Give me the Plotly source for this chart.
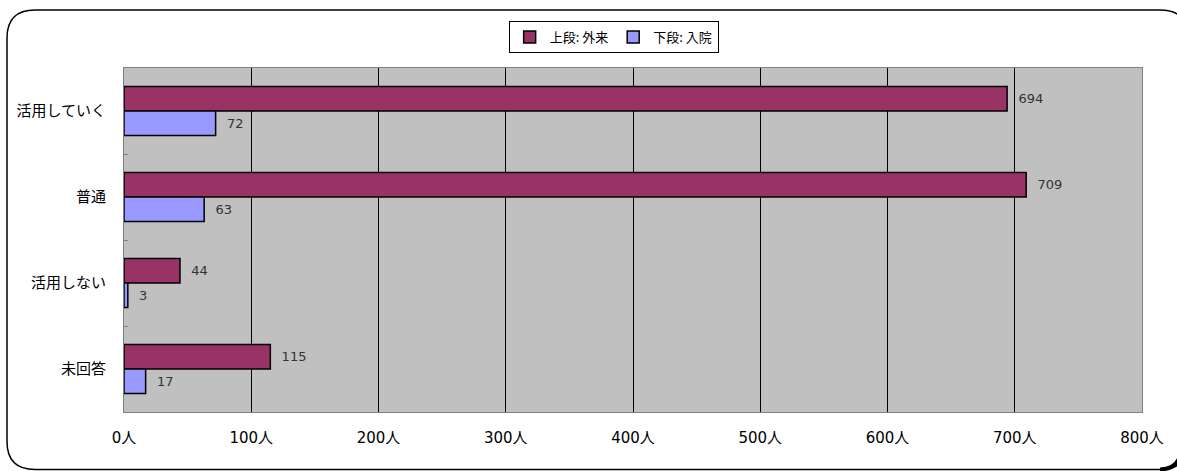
import plotly.graph_objects as go

categories = ["活用していく", "普通", "活用しない", "未回答"]
outpatient = [694, 709, 44, 115]
inpatient = [72, 63, 3, 17]
series_names = ["上段: 外来", "下段: 入院"]
x_ticks = [0, 100, 200, 300, 400, 500, 600, 700, 800]
x_tick_text = [f"{v}人" for v in x_ticks]

W, H = 1177, 471
ML, MR, MT, MB = 124, 35, 68, 59
PW, PH = W - ML - MR, H - MT - MB

def px(x):
    return (x - ML) / PW

def py(y):
    return (H - MB - y) / PH

def P(x, y):
    return f"{px(x):.5f},{py(y):.5f}"

cjk = "Noto Sans CJK JP, sans-serif"
num = "DejaVu Sans, Noto Sans CJK JP, sans-serif"

fig = go.Figure()
fig.add_trace(go.Bar(
    y=categories, x=outpatient, orientation="h", name=series_names[0],
    marker=dict(color="#993366", line=dict(color="#000000", width=1.5)),
    text=outpatient, texttemplate="  %{x}", textposition="outside", cliponaxis=False,
    textfont=dict(color="#333333", size=13, family=num),
))
fig.add_trace(go.Bar(
    y=categories, x=inpatient, orientation="h", name=series_names[1],
    marker=dict(color="#9999FF", line=dict(color="#000000", width=1.5)),
    text=inpatient, texttemplate="  %{x}", textposition="outside", cliponaxis=False,
    textfont=dict(color="#333333", size=13, family=num),
))

def rounded_path(x0, y0, x1, y1, r):
    return (f"M {P(x0 + r, y0)} L {P(x1 - r, y0)} Q {P(x1, y0)} {P(x1, y0 + r)} "
            f"L {P(x1, y1 - r)} Q {P(x1, y1)} {P(x1 - r, y1)} "
            f"L {P(x0 + r, y1)} Q {P(x0, y1)} {P(x0, y1 - r)} "
            f"L {P(x0, y0 + r)} Q {P(x0, y0)} {P(x0 + r, y0)} Z")

shapes = [
    dict(type="path", xref="paper", yref="paper", layer="below",
         path=rounded_path(7, 10, 1188, 469.5, 28),
         line=dict(color="#000000", width=1.5), fillcolor="rgba(0,0,0,0)"),
    dict(type="path", xref="paper", yref="paper", layer="below",
         path=f"M {P(1160, 469.5)} Q {P(1176, 469)} {P(1180, 456)}",
         line=dict(color="#000000", width=4), fillcolor="rgba(0,0,0,0)"),
]

fig.update_layout(
    width=W, height=H,
    margin=dict(l=ML, r=MR, t=MT, b=MB, autoexpand=False),
    paper_bgcolor="#FFFFFF",
    plot_bgcolor="#C0C0C0",
    barmode="group",
    bargap=0.43,
    bargroupgap=0,
    font=dict(family=cjk, size=13, color="#000000"),
    shapes=shapes,
    showlegend=True,
    legend=dict(
        orientation="h", x=0.481, xanchor="center", y=py(21), yanchor="top",
        bgcolor="#FFFFFF", bordercolor="#000000", borderwidth=1,
        font=dict(size=13, family=cjk, color="#000000"),
        itemwidth=30, traceorder="normal",
    ),
    xaxis=dict(
        range=[0, 800], tickmode="array", tickvals=x_ticks, ticktext=x_tick_text,
        showgrid=True, gridcolor="#000000", gridwidth=1,
        showline=True, linecolor="#808080", linewidth=1, mirror=True,
        zeroline=False, ticks="", ticklabelstandoff=12, automargin=False,
        tickfont=dict(size=15, color="#000000", family=num),
        fixedrange=True,
    ),
    yaxis=dict(
        autorange="reversed", type="category", automargin=False,
        showline=True, linecolor="#808080", linewidth=1, mirror=True,
        ticks="inside", tickson="boundaries", ticklen=4, tickcolor="#808080",
        showgrid=False, tickfont=dict(size=15, color="#000000", family=cjk),
        ticklabelstandoff=14, fixedrange=True,
    ),
)

fig.write_html("out.html")
